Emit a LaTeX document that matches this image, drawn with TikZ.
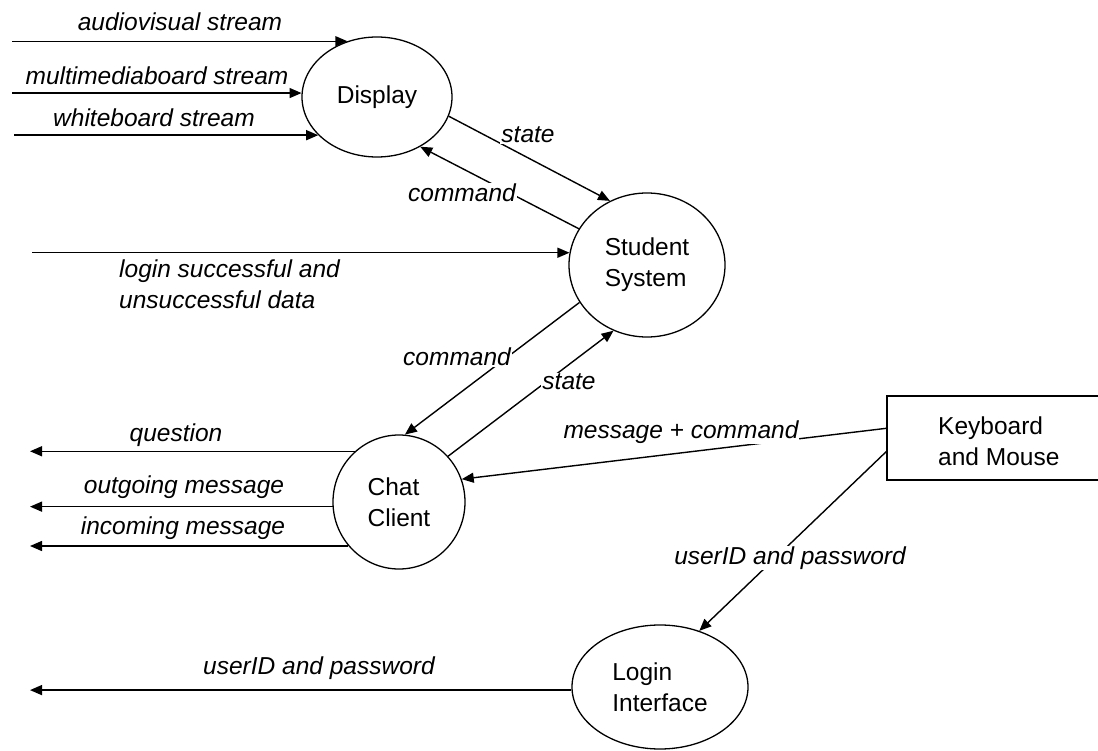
\documentclass[tikz,border=0pt]{standalone}
\usepackage{fontspec}
\setmainfont{Liberation Sans}
\usetikzlibrary{arrows.meta,shapes.geometric}

\begin{document}
\begin{tikzpicture}[x=1pt,y=-1pt,
  font=\fontsize{24.5}{31}\selectfont,
  proc/.style={draw, ellipse, line width=1.3pt, inner sep=0pt, align=left},
  flow/.style={line width=1.4pt, -{Triangle[length=12pt,width=10pt]}},
  lbl/.style={fill=white, inner sep=1pt, font=\fontsize{24.5}{31}\selectfont\itshape}]
\clip (0,0) rectangle (1098,751);
\fill[white] (0,0) rectangle (1098,751);

% processes
\node[proc, minimum width=150pt, minimum height=120pt] (disp) at (377,97) {Display};
\node[proc, minimum width=156pt, minimum height=144pt] (ss) at (647,265) {Student\\System};
\node[proc, minimum width=132pt, minimum height=134pt] (chat) at (399,502) {Chat\\Client};
\node[proc, minimum width=176pt, minimum height=124pt] (login) at (660,687) {Login\\Interface};
\node[draw, rectangle, line width=1.4pt, minimum width=220pt, minimum height=84pt, inner sep=0pt] (kb) at (997,438) {};
\node[anchor=west, align=left, inner sep=0pt] (kbtext) at (938,441) {Keyboard\\and Mouse};

% free ends
\coordinate (av) at (12,0 |- disp.118.6);
\coordinate (mb) at (12,0 |- disp.177);
\coordinate (wb) at (14,0 |- disp.213.2);
\coordinate (ls) at (32,0 |- ss.171.1);
\coordinate (q)  at (30,0 |- chat.131.3);
\coordinate (om) at (30,0 |- chat.184.3);
\coordinate (im) at (30,0 |- chat.221.5);
\coordinate (up) at (30,0 |- login.182);

% flows
\draw[flow] (av) -- (disp.118.6);
\draw[flow] (mb) -- (disp.177);
\draw[flow] (wb) -- (disp.213.2);
\draw[flow] (disp.-15.7) -- (ss.120.3);
\draw[flow] (ss.152.4) -- (disp.-49);
\draw[flow] (ls) -- (ss.171.1);
\draw[flow] (ss.209.6) -- (chat.85);
\draw[flow] (chat.43.8) -- (ss.243.8);
\draw[flow] (chat.131.3) -- (q);
\draw[flow] (chat.184.3) -- (om);
\draw[flow] (chat.221.5) -- (im);
\draw[flow] (kb.175.8) -- (chat.20.9);
\draw[flow] (kb.187.8) -- (login.55.6);
\draw[flow] (login.182) -- (up);

% labels
\node[lbl] (l1) at (180,22) {audiovisual stream};
\node[lbl] (l2) at (157,76) {multimediaboard stream};
\node[lbl] (l3) at (154,118) {whiteboard stream};
\node[lbl] (l4) at (528,135) {state};
\node[lbl] (l5) at (462,193) {command};
\node[lbl, align=left, anchor=west] (l6) at (118,284) {login successful and\\unsuccessful data};
\node[lbl] (l7) at (457,357) {command};
\node[lbl] (l8) at (569,382) {state};
\node[lbl] (l9) at (176,435) {question};
\node[lbl] (l10) at (184,487) {outgoing message};
\node[lbl] (l11) at (183,528) {incoming message};
\node[lbl] (l12) at (681,432) {message + command};
\node[lbl] (l13) at (790,558) {userID and password};
\node[lbl] (l14) at (319,668) {userID and password};
\end{tikzpicture}
\end{document}
